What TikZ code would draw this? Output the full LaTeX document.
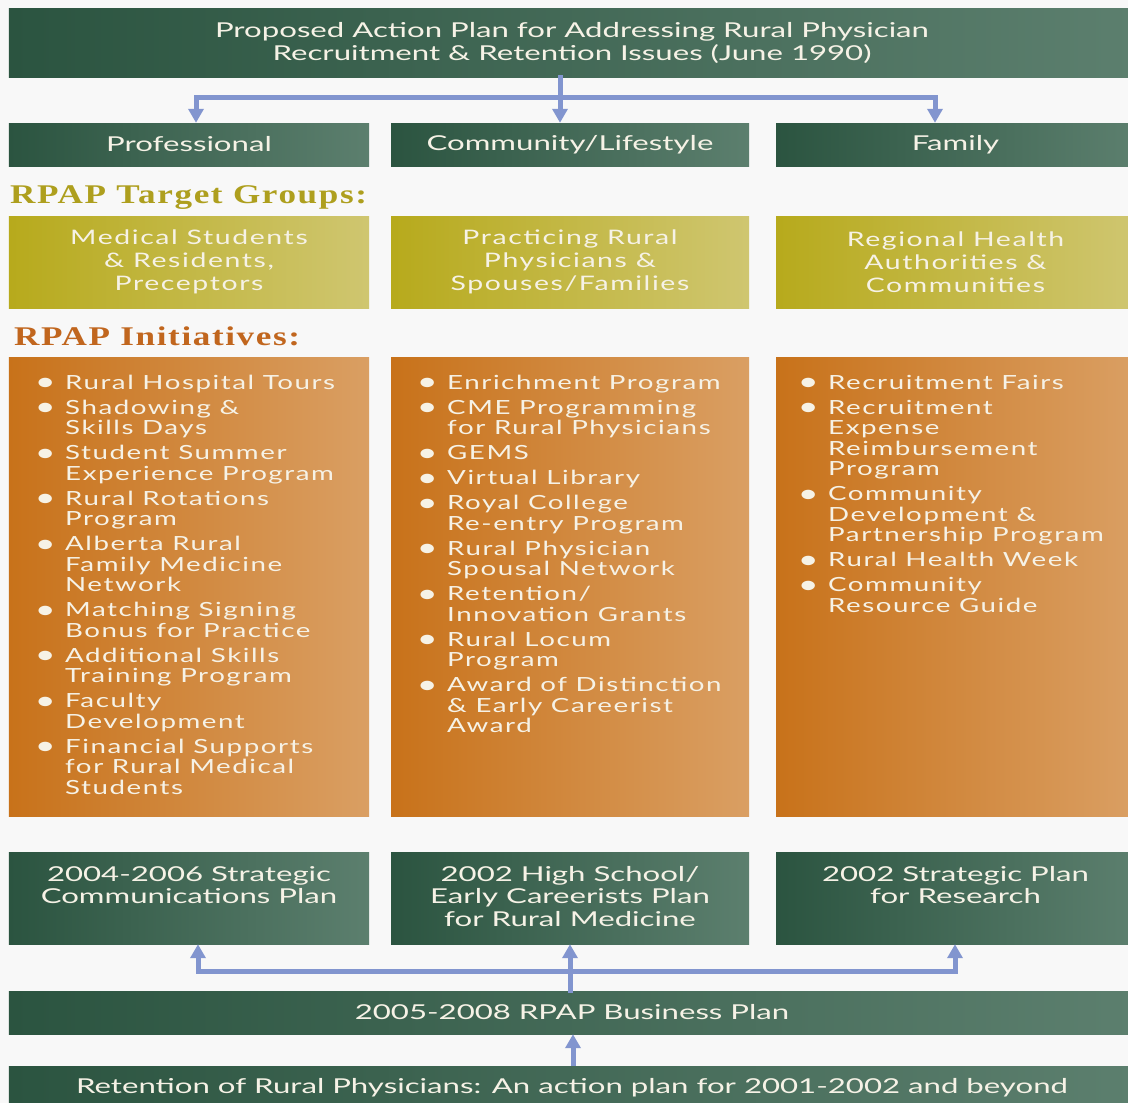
\documentclass[tikz,border=0pt]{standalone}
\usepackage{fontspec}
\setmainfont{Lato}
\newfontfamily\boxfont{Lato}[FakeStretch=1.52]
\newfontfamily\listfont{Lato}[FakeStretch=1.42,LetterSpace=8]
\newfontfamily\headfont{Liberation Serif}[FakeStretch=1.3,LetterSpace=6]
\usetikzlibrary{arrows.meta}

\definecolor{bg}{HTML}{F8F8F8}
\definecolor{greenL}{HTML}{2B5440}
\definecolor{greenR}{HTML}{5C7F6E}
\definecolor{oliveL}{HTML}{B7AA1C}
\definecolor{oliveR}{HTML}{CFC670}
\definecolor{orangeL}{HTML}{C8721A}
\definecolor{orangeR}{HTML}{DA9F63}
\definecolor{arrowc}{HTML}{8295CF}
\definecolor{txt}{HTML}{F6F2E6}
\definecolor{olivehead}{HTML}{AE9F1E}
\definecolor{orangehead}{HTML}{C1661E}

% bullet column: dot centred in 20bp, text 30bp from the left edge
\newcommand\bu{\hbox to 30bp{\hbox to 20bp{\hss\raisebox{-0.09em}{\scalebox{1.3}{\textbullet}}\hss}\hss}}

\tikzset{
  box/.style={rectangle, inner sep=0pt, text=txt, align=center},
  gbox/.style={box, left color=greenL, right color=greenR,
    font=\boxfont\fontsize{20.5bp}{23bp}\selectfont},
  obox/.style={box, left color=oliveL, right color=oliveR,
    font=\listfont\fontsize{20bp}{23bp}\selectfont},
  rbox/.style={box, left color=orangeL, right color=orangeR},
  listtext/.style={anchor=base west, inner sep=0pt, text=txt,
    font=\listfont\fontsize{19.5bp}{20.5bp}\selectfont},
  plantext/.style={anchor=base, inner sep=0pt, text=txt,
    font=\boxfont\fontsize{20.5bp}{22.5bp}\selectfont},
  heading/.style={anchor=base west, inner sep=0pt,
    font=\headfont\bfseries\fontsize{27bp}{30bp}\selectfont},
  link/.style={draw=arrowc, line width=5bp, line cap=rect},
  arr/.style={draw=arrowc, line width=5bp,
    -{Triangle[width=15bp,length=14bp]}},
}

\begin{document}
\begin{tikzpicture}[x=1bp, y=-1bp]
\useasboundingbox (0,0) rectangle (1128,1103);
\fill[bg] (0,0) rectangle (1128,1103);

% top plan and the three areas
\node[gbox, minimum width=1126bp, minimum height=69bp] (top) at (572,42.5)
  {Proposed Action Plan for Addressing Rural Physician\\Recruitment \& Retention Issues (June 1990)};
\node[gbox, minimum width=360bp, minimum height=43bp] (c1) at (189,144.5) {Professional};
\node[gbox, minimum width=358bp, minimum height=43bp] (c2) at (570,144.5) {Community/Lifestyle};
\node[gbox, minimum width=359bp, minimum height=43bp] (c3) at (955.5,144.5) {Family};

\coordinate (jl) at (196,97);
\coordinate (jt) at (560,97);
\coordinate (jr) at (935,97);
\draw[link] (top.south -| jt) -- (jt);
\draw[link] (jl) -- (jr);
\draw[arr] (jl) -- (jl |- c1.north);
\draw[arr] (jt) -- (jt |- c2.north);
\draw[arr] (jr) -- (jr |- c3.north);

% target groups
\node[heading, text=olivehead] (hg) at (10,203) {RPAP Target Groups:};
\node[obox, minimum width=360bp, minimum height=92bp] (t1) at (189,262)
  {Medical Students\\\& Residents,\\Preceptors};
\node[obox, minimum width=358bp, minimum height=92bp] (t2) at (570,262)
  {Practicing Rural\\Physicians \&\\Spouses/Families};
\node[obox, minimum width=359bp, minimum height=92bp] (t3) at (955.5,262)
  {Regional Health\\Authorities \&\\Communities};

% initiatives
\node[heading, text=orangehead] (hi) at (14,345) {RPAP Initiatives:};
\node[rbox, minimum width=360bp, minimum height=459bp] (i1) at (189,586.5) {};
\node[rbox, minimum width=358bp, minimum height=459bp] (i2) at (570,586.5) {};
\node[rbox, minimum width=359bp, minimum height=459bp] (i3) at (955.5,586.5) {};

\node[listtext] (l1) at (35,389) {\begin{tabular}[t]{@{}l@{}l@{}}
\bu&Rural Hospital Tours\\[4.5bp]
\bu&Shadowing \&\\
&Skills Days\\[4.5bp]
\bu&Student Summer\\
&Experience Program\\[4.5bp]
\bu&Rural Rotations\\
&Program\\[4.5bp]
\bu&Alberta Rural\\
&Family Medicine\\
&Network\\[4.5bp]
\bu&Matching Signing\\
&Bonus for Practice\\[4.5bp]
\bu&Additional Skills\\
&Training Program\\[4.5bp]
\bu&Faculty\\
&Development\\[4.5bp]
\bu&Financial Supports\\
&for Rural Medical\\
&Students
\end{tabular}};

\node[listtext] (l2) at (417,389) {\begin{tabular}[t]{@{}l@{}l@{}}
\bu&Enrichment Program\\[4.5bp]
\bu&CME Programming\\
&for Rural Physicians\\[4.5bp]
\bu&GEMS\\[4.5bp]
\bu&Virtual Library\\[4.5bp]
\bu&Royal College\\
&Re-entry Program\\[4.5bp]
\bu&Rural Physician\\
&Spousal Network\\[4.5bp]
\bu&Retention/\\
&Innovation Grants\\[4.5bp]
\bu&Rural Locum\\
&Program\\[4.5bp]
\bu&Award of Distinction\\
&\& Early Careerist\\
&Award
\end{tabular}};

\node[listtext] (l3) at (798,389) {\begin{tabular}[t]{@{}l@{}l@{}}
\bu&Recruitment Fairs\\[4.5bp]
\bu&Recruitment\\
&Expense\\
&Reimbursement\\
&Program\\[4.5bp]
\bu&Community\\
&Development \&\\
&Partnership Program\\[4.5bp]
\bu&Rural Health Week\\[4.5bp]
\bu&Community\\
&Resource Guide
\end{tabular}};

% plans
\node[gbox, minimum width=360bp, minimum height=92bp] (b1) at (189,898) {};
\node[gbox, minimum width=358bp, minimum height=92bp] (b2) at (570,898) {};
\node[gbox, minimum width=359bp, minimum height=92bp] (b3) at (955.5,898) {};
\node[plantext] (b1t) at (189,881)
  {\begin{tabular}[t]{@{}c@{}}2004-2006 Strategic\\Communications Plan\end{tabular}};
\node[plantext] (b2t) at (570,881)
  {\begin{tabular}[t]{@{}c@{}}2002 High School/\\Early Careerists Plan\\for Rural Medicine\end{tabular}};
\node[plantext] (b3t) at (955.5,881)
  {\begin{tabular}[t]{@{}c@{}}2002 Strategic Plan\\for Research\end{tabular}};

\node[gbox, minimum width=1126bp, minimum height=43bp] (bp) at (572,1012.5) {2005-2008 RPAP Business Plan};
\node[gbox, minimum width=1126bp, minimum height=44bp] (rt) at (572,1088)
  {Retention of Rural Physicians: An action plan for 2001-2002 and beyond};

\coordinate (kl) at (198,971);
\coordinate (km) at (570,971);
\coordinate (kr) at (955,971);
\coordinate (ka) at (573,1040);
\draw[link] (kl) -- (kr);
\draw[link] (bp.north -| km) -- (km);
\draw[arr] (kl) -- (kl |- b1.south);
\draw[arr] (km) -- (km |- b2.south);
\draw[arr] (kr) -- (kr |- b3.south);
\draw[arr] (rt.north -| ka) -- (bp.south -| ka);
\end{tikzpicture}
\end{document}
